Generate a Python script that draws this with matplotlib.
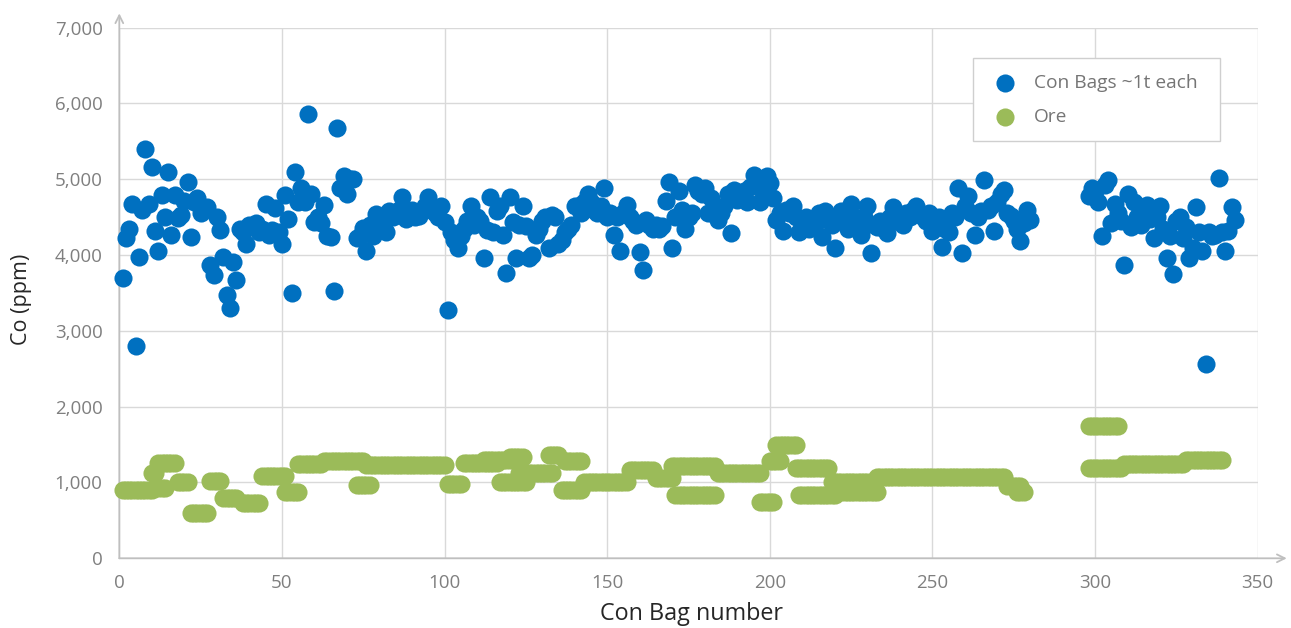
import numpy as np
import matplotlib
matplotlib.use("Agg")
import matplotlib.pyplot as plt
from matplotlib.ticker import FuncFormatter, MultipleLocator

# ---------------- data ----------------
con_bag = list(range(1, 281)) + list(range(298, 344))

co_con = [
    3700, 4230, 4350, 4680, 2800, 3970, 4600, 5400, 4680, 5160,
    4320, 4050, 4790, 4500, 5100, 4270, 4790, 4490, 4530, 4720,
    4970, 4240, 4700, 4750, 4550, 4620, 4640, 3870, 3740, 4500,
    4330, 3980, 3470, 3300, 3910, 3670, 4350, 4300, 4150, 4400,
    4380, 4420, 4300, 4350, 4680, 4260, 4330, 4620, 4300, 4150,
    4790, 4480, 3500, 5100, 4700, 4880, 4700, 5860, 4800, 4440,
    4500, 4430, 4660, 4250, 4240, 3520, 5680, 4880, 5050, 4810,
    5000, 5000, 4220, 4250, 4360, 4050, 4400, 4250, 4540, 4400,
    4350, 4300, 4580, 4500, 4550, 4600, 4760, 4470, 4550, 4600,
    4500, 4520, 4600, 4650, 4770, 4600, 4550, 4500, 4650, 4440,
    3280, 4300, 4200, 4090, 4250, 4350, 4450, 4650, 4400, 4500,
    4450, 3960, 4330, 4770, 4300, 4580, 4650, 4270, 3760, 4770,
    4440, 3960, 4400, 4650, 4380, 3960, 4000, 4270, 4350, 4450,
    4500, 4090, 4530, 4500, 4150, 4200, 4300, 4350, 4400, 4650,
    4650, 4550, 4700, 4810, 4700, 4600, 4550, 4650, 4890, 4500,
    4550, 4270, 4500, 4050, 4550, 4660, 4500, 4450, 4400, 4040,
    3800, 4460, 4400, 4350, 4400, 4350, 4380, 4720, 4960, 4090,
    4500, 4850, 4600, 4350, 4500, 4550, 4930, 4850, 4800, 4880,
    4560, 4750, 4600, 4460, 4550, 4650, 4810, 4290, 4860, 4730,
    4800, 4850, 4700, 4900, 5060, 4950, 4700, 4850, 5040, 4950,
    4750, 4460, 4550, 4320, 4600, 4550, 4650, 4500, 4310, 4400,
    4500, 4350, 4450, 4400, 4550, 4240, 4580, 4500, 4400, 4090,
    4500, 4580, 4450, 4350, 4670, 4500, 4400, 4270, 4500, 4650,
    4030, 4400, 4370, 4450, 4350, 4290, 4500, 4630, 4450, 4500,
    4400, 4550, 4500, 4600, 4650, 4550, 4500, 4450, 4560, 4320,
    4450, 4500, 4110, 4350, 4310, 4560, 4500, 4890, 4030, 4650,
    4780, 4550, 4270, 4500, 4580, 4990, 4600, 4650, 4320, 4700,
    4800, 4860, 4550, 4520, 4450, 4350, 4190, 4430, 4600, 4460,
    # bags 298-343
    4780, 4880, 4850, 4700, 4250, 4930, 4990, 4420, 4680, 4550,
    4450, 3870, 4810, 4370, 4700, 4500, 4400, 4600, 4660, 4480,
    4220, 4500, 4650, 4350, 3960, 4250, 3750, 4450, 4500, 4220,
    4370, 3960, 4100, 4640, 4300, 4050, 2560, 4310, 4250, 4270,
    5020, 4300, 4050, 4320, 4640, 4460,
]

# Ore grade: constant over runs of consecutive bags (first bag, last bag, ppm)
ore_start = [1, 10, 11, 12, 18, 22, 28, 32, 38, 44,
             51, 55, 63, 73, 76, 101, 106, 112, 117, 120,
             123, 132, 136, 137, 143, 157, 165, 170, 171, 184,
             197, 200, 202, 208, 209, 219, 221, 233, 273, 276,
             298, 298, 309, 328]
ore_end = [10, 11, 14, 17, 21, 27, 31, 36, 43, 51,
           55, 62, 75, 77, 100, 105, 116, 122, 125, 124,
           133, 135, 142, 142, 156, 164, 170, 183, 183, 197,
           201, 203, 208, 218, 220, 232, 233, 272, 277, 278,
           307, 308, 327, 339]
ore_value = [900, 1120, 930, 1260, 1000, 600, 1020, 800, 730, 1090,
             880, 1250, 1290, 970, 1230, 980, 1260, 1300, 1000, 1330,
             1130, 1360, 900, 1280, 1000, 1160, 1060, 1220, 840, 1120,
             740, 1280, 1490, 1190, 830, 1000, 870, 1070, 950, 880,
             1740, 1190, 1250, 1300]

x_ticks = [0, 50, 100, 150, 200, 250, 300, 350]
y_ticks = [0, 1000, 2000, 3000, 4000, 5000, 6000, 7000]

# expand ore runs to one point per bag
ore_bag, ore_co = [], []
for a, b, v in zip(ore_start, ore_end, ore_value):
    for bag in range(a, b + 1):
        ore_bag.append(bag)
        ore_co.append(v)

# ---------------- plot ----------------
plt.rcParams['font.family'] = ['Open Sans', 'DejaVu Sans']

W, H = 1291, 628
fig = plt.figure(figsize=(W / 100, H / 100), dpi=100)
ax = fig.add_axes([119.3 / W, (H - 558.3) / H, 1138.4 / W, 530.6 / H])

blue = '#0070C0'
green = '#9BBB59'
ms = 170

ax.scatter(con_bag, co_con, s=ms, color=blue, linewidths=0, clip_on=False,
           zorder=3, label='Con Bags ~1t each')
ax.scatter(ore_bag, ore_co, s=ms, color=green, linewidths=0, clip_on=False,
           zorder=3, label='Ore')

ax.set_xlim(0, 350)
ax.set_ylim(0, 7000)
ax.set_xticks(x_ticks)
ax.set_yticks(y_ticks)
ax.yaxis.set_major_formatter(FuncFormatter(lambda v, p: f"{int(v):,}"))
ax.grid(True, color='#d9d9d9', lw=1.0)
ax.set_axisbelow(True)
for s in ax.spines.values():
    s.set_visible(False)
ax.tick_params(length=0, labelsize=13.5, labelcolor='#7f7f7f')
ax.tick_params(axis='y', pad=12)
ax.tick_params(axis='x', pad=11)

axis_col = '#bfbfbf'
arrow = dict(arrowstyle='->', color=axis_col, lw=1.3, shrinkA=0, shrinkB=0,
             mutation_scale=14)
ax.annotate('', xy=(0, 1.027), xytext=(0, 0), xycoords='axes fraction',
            arrowprops=arrow, annotation_clip=False, zorder=1)
ax.annotate('', xy=(1.0255, 0), xytext=(0, 0), xycoords='axes fraction',
            arrowprops=arrow, annotation_clip=False, zorder=1)

fig.text(691 / W, 1 - 614 / H, 'Con Bag number', ha='center', va='center',
         fontsize=16.8, color='#262626')
fig.text(22 / W, 1 - 299 / H, 'Co (ppm)', ha='center', va='center',
         rotation=90, fontsize=15.5, color='#262626')

leg = ax.legend(loc='upper left',
                bbox_to_anchor=(973.3 / W, 1 - 139.3 / H, 246.7 / W, 81 / H),
                bbox_transform=fig.transFigure, borderaxespad=0, mode='expand',
                fontsize=13.8, frameon=True, fancybox=False, framealpha=1,
                edgecolor='#cfcfcf', borderpad=0.8, handlelength=1.7,
                handletextpad=0.65, labelspacing=0.85)
for t in leg.get_texts():
    t.set_color('#757575')
leg.get_frame().set_linewidth(1.0)

fig.savefig('out.png', dpi=100)
